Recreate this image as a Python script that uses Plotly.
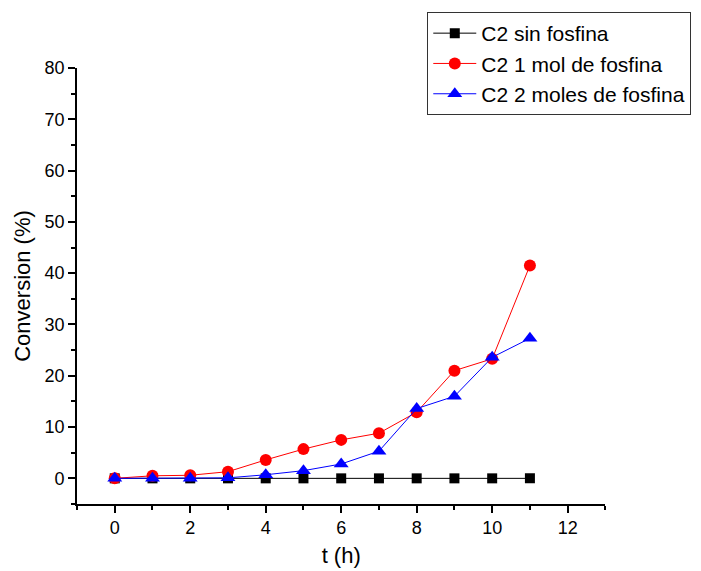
import plotly.graph_objects as go

t_h = [0, 1, 2, 3, 4, 5, 6, 7, 8, 9, 10, 11]
c2_sin = [0, 0, 0, 0, 0, 0, 0, 0, 0, 0, 0, 0]
c2_1mol = [0, 0.5, 0.6, 1.3, 3.6, 5.7, 7.5, 8.8, 12.9, 21.0, 23.3, 41.5]
c2_2mol = [0, 0, 0, 0.1, 0.7, 1.5, 2.8, 5.3, 13.6, 16.0, 23.6, 27.3]

names = ["C2 sin fosfina", "C2 1 mol de fosfina", "C2 2 moles de fosfina"]

FONT = "Liberation Sans, Arial, sans-serif"

fig = go.Figure()
fig.add_trace(go.Scatter(x=t_h, y=c2_sin, name=names[0], mode="lines+markers",
                         line=dict(color="black", width=1),
                         marker=dict(symbol="square", size=10, color="black")))
fig.add_trace(go.Scatter(x=t_h, y=c2_1mol, name=names[1], mode="lines+markers",
                         line=dict(color="red", width=1),
                         marker=dict(symbol="circle", size=12, color="red")))
fig.add_trace(go.Scatter(x=t_h, y=c2_2mol, name=names[2], mode="lines+markers",
                         line=dict(color="blue", width=1),
                         marker=dict(symbol="triangle-up", size=13, color="blue")))

axis_common = dict(showline=True, linecolor="black", linewidth=1.6, ticks="outside",
                   ticklen=7, tickwidth=1.6, tickcolor="black", showgrid=False,
                   zeroline=False, mirror=False, automargin=False,
                   tickfont=dict(family=FONT, size=18, color="black"))

L, R, T, B = 77, 10, 68, 67
W = 701 - L - R
H = 571 - T - B
plot_right = 608

fig.update_layout(
    width=701, height=571,
    margin=dict(l=L, r=R, t=T, b=B),
    plot_bgcolor="white", paper_bgcolor="white",
    font=dict(family=FONT, color="black"),
    xaxis=dict(domain=[0, (plot_right - L) / W],
               range=[-1, 13], tickmode="linear", tick0=0, dtick=2,
               minor=dict(ticks="outside", ticklen=4, tickwidth=1.6, tickcolor="black", dtick=1, tick0=0),
               title=dict(text="t (h)", font=dict(family=FONT, size=22), standoff=10),
               **axis_common),
    yaxis=dict(range=[-5, 80], tickmode="linear", tick0=0, dtick=10,
               minor=dict(ticks="outside", ticklen=4, tickwidth=1.6, tickcolor="black", dtick=5, tick0=0),
               title=dict(text="Conversion (%)", font=dict(family=FONT, size=22), standoff=8),
               **axis_common),
    legend=dict(x=(429 - L) / W, y=(571 - B - 12) / H,
                xanchor="left", yanchor="top",
                bordercolor="#333333", borderwidth=1, bgcolor="white",
                font=dict(family=FONT, size=21, color="black"),
                itemwidth=43, tracegroupgap=0),
    showlegend=True,
)

fig.write_html("out.html")
